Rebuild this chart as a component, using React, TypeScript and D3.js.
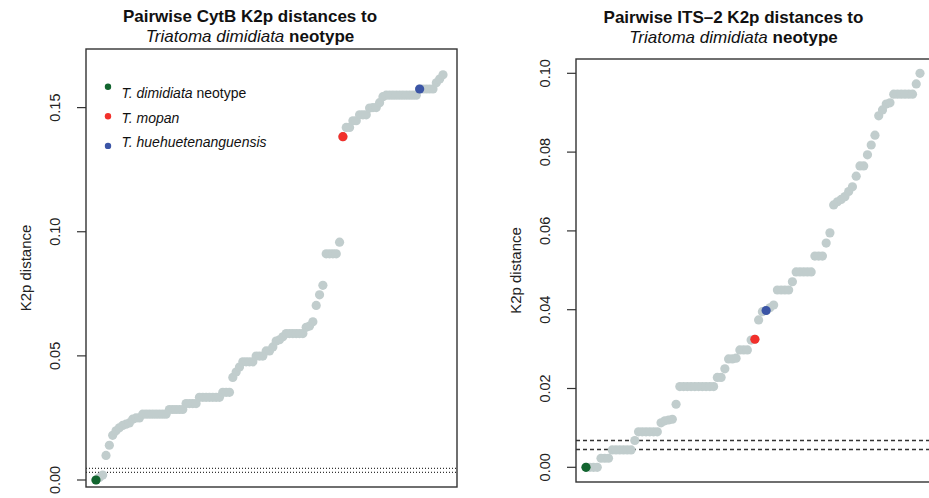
import React from "react";
import * as d3 from "d3";

// sorted pairwise K2p distances to the neotype
const cytbDist = [
  0, 0.001, 0.002, 0.0099, 0.014, 0.018, 0.0198, 0.021, 0.022, 0.0225,
  0.023, 0.0245, 0.025, 0.025, 0.0265, 0.0265, 0.0265, 0.0265, 0.0265, 0.0265,
  0.0265, 0.0265, 0.0284, 0.0284, 0.0284, 0.0284, 0.0284, 0.0308, 0.0308, 0.0308,
  0.0308, 0.0333, 0.0333, 0.0333, 0.0333, 0.0333, 0.0333, 0.0333, 0.0353, 0.0353,
  0.0353, 0.0413, 0.0435, 0.0455, 0.0476, 0.0476, 0.0476, 0.0476, 0.0499, 0.0499,
  0.0499, 0.052, 0.052, 0.0536, 0.056, 0.0565, 0.0577, 0.059, 0.059, 0.059,
  0.059, 0.059, 0.059, 0.0615, 0.062, 0.0637, 0.0703, 0.0746, 0.0784, 0.0911,
  0.0911, 0.0911, 0.0911, 0.0958, 0.1383, 0.142, 0.142, 0.1447, 0.1447, 0.1471,
  0.1471, 0.1471, 0.1498, 0.15, 0.15, 0.152, 0.1544, 0.155, 0.155, 0.155,
  0.155, 0.155, 0.155, 0.155, 0.155, 0.155, 0.155, 0.1575, 0.1575, 0.1575,
  0.1575, 0.1575, 0.16, 0.1615, 0.1632,
];

const its2Dist = [
  0, 0, 0, 0, 0.0023, 0.0023, 0.0023, 0.0044, 0.0044, 0.0044,
  0.0044, 0.0044, 0.0044, 0.0068, 0.009, 0.009, 0.009, 0.009, 0.009, 0.009,
  0.0113, 0.0118, 0.012, 0.0122, 0.016, 0.0205, 0.0205, 0.0205, 0.0205, 0.0205,
  0.0205, 0.0205, 0.0205, 0.0205, 0.0205, 0.0228, 0.0228, 0.025, 0.0275, 0.0275,
  0.0277, 0.0298, 0.0298, 0.0298, 0.0323, 0.0325, 0.0374, 0.0395, 0.0398, 0.0405,
  0.0412, 0.045, 0.045, 0.045, 0.045, 0.0471, 0.0496, 0.0496, 0.0496, 0.0496,
  0.0496, 0.0536, 0.0536, 0.0536, 0.0569, 0.0595, 0.0666, 0.0674, 0.068, 0.0687,
  0.07, 0.0712, 0.0739, 0.0765, 0.0765, 0.0793, 0.0818, 0.0843, 0.0892, 0.0907,
  0.0922, 0.0925, 0.0947, 0.0947, 0.0947, 0.0947, 0.0947, 0.0947, 0.0973, 0.1,
];

const cytbTicks = [0, 0.05, 0.1, 0.15];
const its2Ticks = [0, 0.02, 0.04, 0.06, 0.08, 0.1];
const cytbCutoffs = [0.0031, 0.0047];
const its2Cutoffs = [0.0045, 0.0068];

// index of neotype, T. mopan, T. huehuetenanguensis in each sorted list
const cytbMarked = [0, 74, 97];
const its2Marked = [0, 45, 48];
const markColors = ["#12652f", "#f2302b", "#3b55a6"];
const legendNames = ["T. dimidiata", "T. mopan", "T. huehuetenanguensis"];

const FONT = "'Liberation Sans', Arial, Helvetica, sans-serif";
const GREY = "#c1cdcd";

function Panel({ values, ticks, cutoffs, marked, box, yDomain, xPad, titleX, titleY, gene, dash, legend }) {
  const x = d3.scaleLinear()
    .domain([0, values.length - 1])
    .range([box.left + xPad[0], box.right - xPad[1]]);
  const y = d3.scaleLinear().domain(yDomain).range([box.bottom, box.top]);
  const yMid = (box.top + box.bottom) / 2;

  return (
    <g fontFamily={FONT}>
      <text x={titleX} y={titleY} textAnchor="middle" fontSize={17} fontWeight="bold" fill="#111">
        {`Pairwise ${gene} K2p distances to`}
      </text>
      <text x={titleX} y={titleY + 20.5} textAnchor="middle" fontSize={17} fontWeight="bold" fill="#111">
        <tspan fontStyle="italic" fontWeight="normal">Triatoma dimidiata</tspan> neotype
      </text>

      {/* cutoff lines */}
      {cutoffs.map((c) => (
        <line key={c} x1={box.left} x2={box.right} y1={y(c)} y2={y(c)}
          stroke="#333" strokeWidth={dash.w} strokeDasharray={dash.pattern} />
      ))}

      {values.map((v, i) => (
        <circle key={i} cx={x(i)} cy={y(v)} r={4.6} fill={GREY} />
      ))}
      {marked.map((idx, k) => (
        <circle key={"m" + k} cx={x(idx)} cy={y(values[idx])} r={4.6} fill={markColors[k]} />
      ))}

      <rect x={box.left} y={box.top} width={box.right - box.left} height={box.bottom - box.top}
        fill="none" stroke="#333" strokeWidth={1.4} />

      {ticks.map((t) => (
        <g key={t}>
          <line x1={box.left - 9} x2={box.left} y1={y(t)} y2={y(t)} stroke="#333" strokeWidth={1.2} />
          <text transform={`translate(${box.left - 26},${y(t)}) rotate(-90)`} textAnchor="middle"
            fontSize={14.5} fill="#222">{t.toFixed(2)}</text>
        </g>
      ))}
      <text transform={`translate(${box.left - 55.5},${yMid}) rotate(-90)`} textAnchor="middle"
        fontSize={15} fill="#222">K2p distance</text>

      {legend && legendNames.map((name, k) => (
        <g key={name}>
          <circle cx={108} cy={86.7 + k * 29.6} r={3.2} fill={markColors[k]} />
          <text x={121.5} y={97.7 + k * 24.8} fontSize={14} fill="#111">
            <tspan fontStyle="italic">{name}</tspan>{k === 0 ? " neotype" : ""}
          </text>
        </g>
      ))}
    </g>
  );
}

export default function App() {
  return (
    <svg width={929} height={498} style={{ position: "absolute", left: 0, top: 0, background: "#fff" }}>
      <rect width={929} height={498} fill="#fff" />
      <Panel values={cytbDist} ticks={cytbTicks} cutoffs={cytbCutoffs} marked={cytbMarked}
        box={{ left: 86, right: 457, top: 49, bottom: 487 }} yDomain={[-0.00282, 0.17361]}
        xPad={[10, 14]} titleX={250} titleY={21.7} gene="CytB"
        dash={{ pattern: "1 2", w: 1.2 }} legend />
      <Panel values={its2Dist} ticks={its2Ticks} cutoffs={its2Cutoffs} marked={its2Marked}
        box={{ left: 576, right: 932, top: 59, bottom: 482 }} yDomain={[-0.00373, 0.10363]}
        xPad={[10, 12]} titleX={733.5} titleY={22.7} gene="ITS–2"
        dash={{ pattern: "4 3", w: 1.5 }} />
    </svg>
  );
}
